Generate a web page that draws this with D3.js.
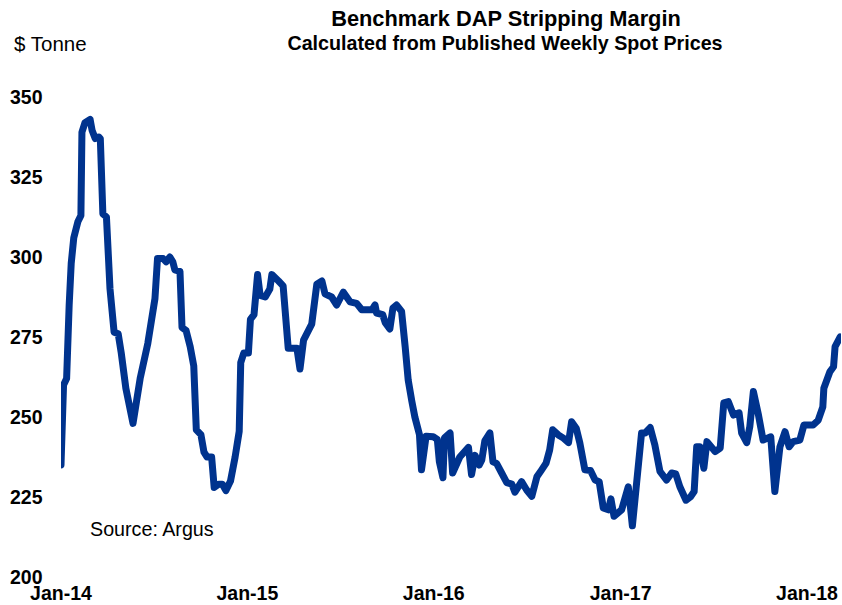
<!DOCTYPE html>
<meta charset="utf-8">
<script src="https://d3js.org/d3.v7.min.js"></script>
<style>
  body { margin: 0; background: #fff; }
  text { font-family: "Liberation Sans", Arial, sans-serif; fill: #000; }
</style>
<svg id="chart" width="842" height="605"></svg>
<script>

// weekly margin readings ($/tonne)
const dates = [
  "2014-01-01","2014-01-06","2014-01-12","2014-01-17","2014-01-21","2014-01-26","2014-02-03","2014-02-09",
  "2014-02-11","2014-02-17","2014-02-27","2014-03-03","2014-03-09","2014-03-16","2014-03-19","2014-03-24",
  "2014-03-31","2014-04-07","2014-04-15","2014-04-23","2014-04-29","2014-05-08","2014-05-22","2014-06-05",
  "2014-06-20","2014-07-04","2014-07-09","2014-07-20","2014-07-26","2014-08-02","2014-08-08","2014-08-12",
  "2014-08-22","2014-08-26","2014-09-03","2014-09-11","2014-09-18","2014-09-23","2014-10-02","2014-10-08",
  "2014-10-14","2014-10-23","2014-10-28","2014-11-06","2014-11-13","2014-11-20","2014-11-29","2014-12-08",
  "2014-12-16","2014-12-19","2014-12-25","2015-01-03","2015-01-07","2015-01-14","2015-01-21","2015-01-26",
  "2015-02-05","2015-02-14","2015-02-18","2015-03-03","2015-03-12","2015-03-22","2015-04-08","2015-04-14",
  "2015-04-21","2015-05-07","2015-05-17","2015-05-27","2015-06-02","2015-06-15","2015-06-25","2015-07-08",
  "2015-07-21","2015-08-03","2015-08-13","2015-09-02","2015-09-08","2015-09-11","2015-09-23","2015-09-28",
  "2015-10-07","2015-10-13","2015-10-20","2015-10-30","2015-11-06","2015-11-12","2015-11-19","2015-11-25",
  "2015-12-04","2015-12-08","2015-12-17","2015-12-31","2016-01-08","2016-01-12","2016-01-19","2016-01-22",
  "2016-02-02","2016-02-07","2016-02-21","2016-03-09","2016-03-15","2016-03-22","2016-03-30","2016-04-04",
  "2016-04-10","2016-04-20","2016-04-26","2016-05-03","2016-05-13","2016-05-23","2016-06-02","2016-06-08",
  "2016-06-21","2016-07-01","2016-07-11","2016-07-21","2016-07-30","2016-08-08","2016-08-15","2016-08-21",
  "2016-09-01","2016-09-11","2016-09-21","2016-09-27","2016-10-06","2016-10-13","2016-10-23","2016-11-03",
  "2016-11-12","2016-11-20","2016-11-28","2016-12-08","2016-12-13","2016-12-19","2017-01-03","2017-01-16",
  "2017-01-24","2017-02-11","2017-02-18","2017-02-28","2017-03-09","2017-03-19","2017-04-01","2017-04-11",
  "2017-04-19","2017-04-27","2017-05-09","2017-05-18","2017-05-25","2017-05-30","2017-06-05","2017-06-13",
  "2017-06-19","2017-07-05","2017-07-15","2017-07-22","2017-07-31","2017-08-10","2017-08-21","2017-08-26",
  "2017-09-05","2017-09-11","2017-09-18","2017-09-28","2017-10-07","2017-10-22","2017-10-30","2017-11-09",
  "2017-11-19","2017-11-27","2017-12-05","2017-12-18","2017-12-26","2018-01-13","2018-01-23","2018-02-01",
  "2018-02-03","2018-02-15","2018-02-22","2018-02-25","2018-03-07"
];
const margins = [
  235, 260, 262, 285, 298, 306, 311, 313,
  339, 342, 343, 339.5, 337, 337.5, 337, 313.5,
  312.5, 290, 276.5, 276, 270, 259, 248, 262,
  273, 287, 299.5, 299.5, 298.5, 300, 298.5, 296,
  295.5, 278, 277, 272, 266, 246, 244.5, 239,
  237.5, 237.5, 228, 229, 229, 227, 230, 237.5,
  245.5, 267, 270, 270, 280.5, 282, 294.5, 288,
  287.5, 290, 294.5, 292.5, 291, 271.5, 271.5, 265,
  274, 279, 291.5, 292.5, 288.5, 287.5, 285, 289,
  286, 285.5, 283.5, 283.5, 285, 282.5, 282, 279.5,
  277.5, 284, 285, 283, 272, 261.5, 255, 250,
  244.5, 233.5, 244, 243.8, 243, 236, 231, 243.5,
  245, 232.5, 237.5, 240.5, 232, 238, 235, 236.5,
  242.5, 245, 236, 235.5, 232.5, 229.5, 229, 226.5,
  229.8, 227.2, 225.2, 231.3, 233.4, 235.6, 239.7, 246,
  244.4, 243.4, 242, 248.5, 246.5, 242, 233.5, 233.3,
  230.3, 229.8, 221.6, 221, 224.4, 219, 221, 228.2,
  216, 245, 245, 246.7, 241.3, 233, 230.3, 232.5,
  232.2, 228.2, 224, 225.1, 226.7, 240.7, 240.7, 234,
  242.3, 239.2, 240.3, 254.4, 254.8, 250.6, 251.3, 245,
  242, 247, 258, 250.6, 242.8, 243.8, 226.7, 240.7,
  245.4, 240.7, 242.3, 242.8, 247.5, 247.5, 249, 253.2,
  259, 264.2, 265.7, 272, 275
];
const yTicks = [200, 225, 250, 275, 300, 325, 350];
const xTickYears = ["2014-01-01", "2015-01-01", "2016-01-01", "2017-01-01", "2018-01-01"];

const title = "Benchmark DAP Stripping Margin";
const subtitle = "Calculated from Published Weekly Spot Prices";
const unitLabel = "$ Tonne";
const sourceLabel = "Source: Argus";

const svg = d3.select("#chart");
const parse = d3.timeParse("%Y-%m-%d");
const data = dates.map((d, i) => ({ date: parse(d), value: margins[i] }));

const plotLeft = 61, plotRight = 841;

const x = d3.scaleTime()
    .domain([parse("2014-01-01"), parse("2018-01-01")])
    .range([plotLeft, 807]);

const y = d3.scaleLinear()
    .domain([200, 350])
    .range([577, 97]);

svg.append("defs").append("clipPath")
    .attr("id", "plot-clip")
  .append("rect")
    .attr("x", plotLeft)
    .attr("y", 0)
    .attr("width", plotRight - plotLeft)
    .attr("height", 605);

// the line
const line = d3.line()
    .x(d => x(d.date))
    .y(d => y(d.value));

svg.append("path")
    .datum(data)
    .attr("clip-path", "url(#plot-clip)")
    .attr("fill", "none")
    .attr("stroke", "#00338e")
    .attr("stroke-width", 7)
    .attr("stroke-linejoin", "round")
    .attr("stroke-linecap", "round")
    .attr("d", line);

// y axis labels (no axis line)
svg.append("g")
  .selectAll("text")
  .data(yTicks)
  .join("text")
    .attr("x", 10)
    .attr("y", d => y(d))
    .attr("dy", "0.35em")
    .style("font-size", "19.5px")
    .style("font-weight", "bold")
    .text(d => d);

// x axis labels
svg.append("g")
  .selectAll("text")
  .data(xTickYears)
  .join("text")
    .attr("x", d => x(parse(d)))
    .attr("y", 600)
    .attr("text-anchor", "middle")
    .style("font-size", "19.5px")
    .style("font-weight", "bold")
    .text(d => d3.timeFormat("%b-%y")(parse(d)));

// titles
svg.append("text")
    .attr("x", 506)
    .attr("y", 26)
    .attr("text-anchor", "middle")
    .style("font-size", "21.8px")
    .style("font-weight", "bold")
    .text(title);

svg.append("text")
    .attr("x", 505)
    .attr("y", 50)
    .attr("text-anchor", "middle")
    .style("font-size", "19.7px")
    .style("font-weight", "bold")
    .text(subtitle);

svg.append("text")
    .attr("x", 14)
    .attr("y", 51)
    .style("font-size", "20.5px")
    .text(unitLabel);

svg.append("text")
    .attr("x", 90)
    .attr("y", 536)
    .style("font-size", "19.7px")
    .text(sourceLabel);

</script>
